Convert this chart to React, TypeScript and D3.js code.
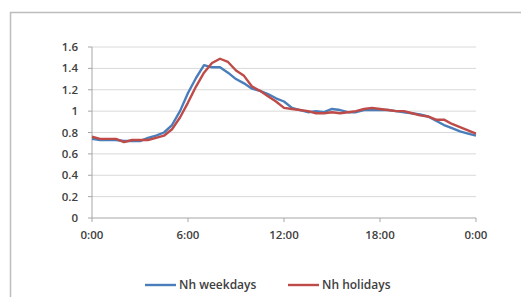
import React, { useEffect, useRef } from "react";
import * as d3 from "d3";

// half-hour steps, 0:00 .. 24:00
const hours = d3.range(0, 24.5, 0.5);

const weekdays = [
	0.74, 0.73, 0.73, 0.73, 0.72, 0.72, 0.72, 0.75, 0.77, 0.8, 0.87, 1.0, 1.17,
	1.31, 1.43, 1.41, 1.41, 1.36, 1.3, 1.26, 1.21, 1.19, 1.16, 1.12, 1.09, 1.03,
	1.01, 0.99, 1.0, 0.99, 1.02, 1.01, 0.99, 0.99, 1.01, 1.01, 1.01, 1.01, 1.0,
	0.99, 0.98, 0.97, 0.95, 0.91, 0.87, 0.84, 0.81, 0.79, 0.77,
];

const holidays = [
	0.76, 0.74, 0.74, 0.74, 0.71, 0.73, 0.73, 0.73, 0.75, 0.77, 0.83, 0.94, 1.08,
	1.23, 1.36, 1.45, 1.49, 1.46, 1.38, 1.33, 1.23, 1.19, 1.14, 1.09, 1.03, 1.02,
	1.01, 1.0, 0.98, 0.98, 0.99, 0.98, 0.99, 1.0, 1.02, 1.03, 1.02, 1.01, 1.0,
	1.0, 0.98, 0.96, 0.95, 0.92, 0.92, 0.88, 0.85, 0.82, 0.79,
];

const yTicks = [0, 0.2, 0.4, 0.6, 0.8, 1, 1.2, 1.4, 1.6];
const xTicks = [0, 6, 12, 18, 24];
const xTickLabels = ["0:00", "6:00", "12:00", "18:00", "0:00"];

const seriesNames = ["Nh weekdays", "Nh holidays"];
const seriesColors = ["#4A7EBB", "#BE4B48"];

const App: React.FC = () => {
	const svgRef = useRef<SVGSVGElement | null>(null);

	useEffect(() => {
		const svg = d3.select(svgRef.current);
		svg.selectAll("*").remove();

		const x = d3.scaleLinear().domain([0, 24]).range([92, 476]);
		const y = d3.scaleLinear().domain([0, 1.6]).range([218, 47]);

		// outer frame
		svg.append("rect")
			.attr("x", 10.5)
			.attr("y", 12.5)
			.attr("width", 600)
			.attr("height", 400)
			.attr("fill", "white")
			.attr("stroke", "#BDBDBD")
			.attr("stroke-width", 1.5);

		// gridlines
		svg.append("g")
			.selectAll("line")
			.data(yTicks.filter((d) => d > 0))
			.enter()
			.append("line")
			.attr("x1", x(0))
			.attr("x2", x(24))
			.attr("y1", (d) => y(d))
			.attr("y2", (d) => y(d))
			.attr("stroke", "#D9D9D9")
			.attr("stroke-width", 1);

		const font = "'Open Sans', 'Liberation Sans', sans-serif";

		// y axis
		const yAxis = svg.append("g").attr("transform", `translate(${x(0)},0)`);
		yAxis.append("line")
			.attr("y1", y(0))
			.attr("y2", y(1.6))
			.attr("stroke", "#A6A6A6");
		yAxis.selectAll(".tk")
			.data(yTicks)
			.enter()
			.append("line")
			.attr("x1", -4)
			.attr("x2", 0)
			.attr("y1", (d) => y(d))
			.attr("y2", (d) => y(d))
			.attr("stroke", "#A6A6A6");
		yAxis.selectAll("text")
			.data(yTicks)
			.enter()
			.append("text")
			.attr("x", -14)
			.attr("y", (d) => y(d))
			.attr("dy", "0.35em")
			.style("text-anchor", "end")
			.style("font-family", font)
			.style("font-size", "11.5px")
			.style("font-weight", "600")
			.style("fill", "#404040")
			.text((d) => String(d));

		// x axis
		const xAxis = svg.append("g").attr("transform", `translate(0,${y(0)})`);
		xAxis.append("line")
			.attr("x1", x(0))
			.attr("x2", x(24))
			.attr("stroke", "#A6A6A6");
		xAxis.selectAll(".tk")
			.data(xTicks)
			.enter()
			.append("line")
			.attr("x1", (d) => x(d))
			.attr("x2", (d) => x(d))
			.attr("y1", 0)
			.attr("y2", 4)
			.attr("stroke", "#A6A6A6");
		xAxis.selectAll("text")
			.data(xTicks)
			.enter()
			.append("text")
			.attr("x", (d) => x(d))
			.attr("y", 17)
			.attr("dy", "0.35em")
			.style("text-anchor", "middle")
			.style("font-family", font)
			.style("font-size", "11.5px")
			.style("font-weight", "600")
			.style("fill", "#404040")
			.text((_d, i) => xTickLabels[i]);

		// series
		const line = d3
			.line<number>()
			.x((_d, i) => x(hours[i]))
			.y((d) => y(d))
			.curve(d3.curveLinear);

		[weekdays, holidays].forEach((s, i) => {
			svg.append("path")
				.datum(s)
				.attr("d", line)
				.attr("fill", "none")
				.attr("stroke", seriesColors[i])
				.attr("stroke-width", 2.4)
				.attr("stroke-linejoin", "round");
		});

		// legend
		const legendX = [145, 288];
		const lg = svg.append("g");
		seriesNames.forEach((name, i) => {
			lg.append("line")
				.attr("x1", legendX[i])
				.attr("x2", legendX[i] + 31)
				.attr("y1", 285)
				.attr("y2", 285)
				.attr("stroke", seriesColors[i])
				.attr("stroke-width", 2.4);
			lg.append("text")
				.attr("x", legendX[i] + 34)
				.attr("y", 285)
				.attr("dy", "0.35em")
				.style("font-family", font)
				.style("font-size", "12px")
				.style("font-weight", "600")
				.style("fill", "#404040")
				.text(name);
		});
	}, []);

	return (
		<svg
			ref={svgRef}
			width={521}
			height={297}
			style={{ position: "absolute", left: 0, top: 0, background: "white" }}
		></svg>
	);
};

export default App;
